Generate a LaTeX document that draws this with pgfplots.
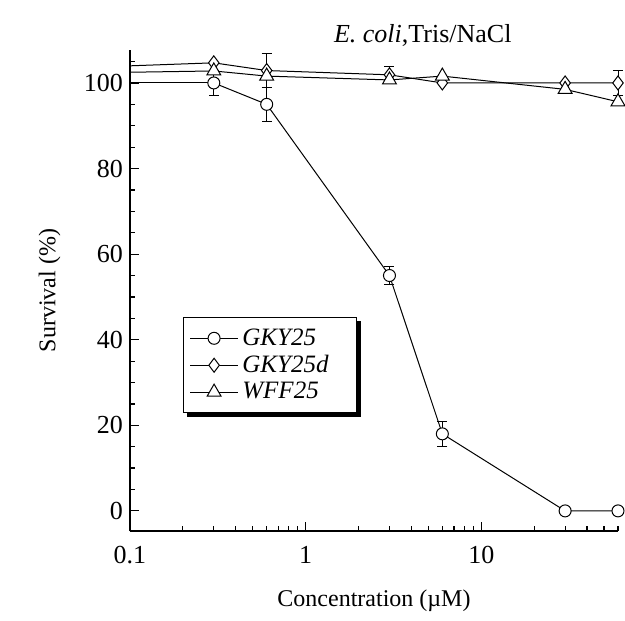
\documentclass[border=0pt]{standalone}
\usepackage{fontspec}
\setmainfont{Liberation Serif}
\usepackage{pgfplots}
\pgfplotsset{compat=1.18}
\usetikzlibrary{backgrounds}

% survival data: x, y, error
\pgfplotstableread{
x y e
0.3 100 3
0.6 95 4
3 55 2
6 18 3
30 0 0
60 0 0
}\gky
\pgfplotstableread{
x y e
0.3 104.7 0
0.6 102.9 4
3 101.9 2
6 100 0
30 100 0
60 100 3
}\gkyd
\pgfplotstableread{
x y e
0.3 102.8 0
0.6 101.6 0
3 100.7 0
6 101.6 0
30 98.5 0
60 95.6 0
}\wff

\begin{document}
\begin{tikzpicture}
\begin{axis}[
  scale only axis,
  width=244bp, height=240.5bp,
  xmode=log, log basis x=10,
  xmin=0.1, xmax=60,
  ymin=-4.7, ymax=107.7,
  axis lines=left,
  axis line style={-, line width=0.75bp},
  tick align=inside,
  major tick length=4.5bp, minor tick length=2.5bp,
  every tick/.style={black, line width=0.6bp},
  xtick={0.1,1,10}, xticklabels={0.1,1,10},
  minor xtick={0.2,0.3,0.4,0.5,0.6,0.7,0.8,0.9,2,3,4,5,6,7,8,9,20,30,40,50,60},
  ytick={0,20,40,60,80,100},
  minor ytick={5,10,15,25,30,35,45,50,55,65,70,75,85,90,95,105},
  /pgf/number format/assume math mode=true,
  tick label style={font=\fontsize{13bp}{14bp}\selectfont},
  xticklabel style={yshift=-4bp},
  label style={font=\fontsize{12bp}{14bp}\selectfont},
  xlabel={Concentration (µM)},
  ylabel={Survival (\%)},
  xlabel style={at={(axis description cs:0.5,-0.145)}, anchor=center},
  ylabel style={at={(axis description cs:-0.165,0.5)}, anchor=center},
  clip=false,
  legend cell align=left,
  legend image code/.code={\draw[mark repeat=2,mark phase=2] plot coordinates {(0cm,0cm) (0.42cm,0cm) (0.84cm,0cm)};},
  legend style={name=leg, at={(axis description cs:0.109,0.445)}, anchor=north west,
    draw=black, line width=0.6bp, fill=white,
    font=\fontsize{12.5bp}{13bp}\selectfont\itshape,
    row sep=-0.5bp, inner xsep=3bp, inner ysep=3.5bp},
  error bars/error bar style={line width=0.5bp, black},
  error bars/error mark options={rotate=90, black, line width=0.5bp, mark size=2.5bp},
]
% segments from the axis edge, no markers
\addplot[black, line width=0.5bp, forget plot] coordinates {(0.1,100) (0.3,100)};
\addplot[black, line width=0.5bp, forget plot] coordinates {(0.1,104) (0.3,104.7)};
\addplot[black, line width=0.5bp, forget plot] coordinates {(0.1,102.5) (0.3,102.8)};

\addplot[black, line width=0.5bp, mark=*, mark size=3bp, mark options={fill=white, line width=0.5bp},
  error bars/.cd, y dir=both, y explicit] table[x=x, y=y, y error=e] {\gky};
\addlegendentry{GKY25}
\addplot[black, line width=0.5bp, mark=diamond*, mark size=3.5bp, mark options={fill=white, line width=0.5bp},
  error bars/.cd, y dir=both, y explicit] table[x=x, y=y, y error=e] {\gkyd};
\addlegendentry{GKY25d\kern 9bp\null}
\addplot[black, line width=0.5bp, mark=triangle*, mark size=4bp, mark options={fill=white, line width=0.5bp},
  error bars/.cd, y dir=both, y explicit] table[x=x, y=y, y error=e] {\wff};
\addlegendentry{WFF25}

\node[font=\fontsize{13bp}{15bp}\selectfont] at (axis description cs:0.6,1.031) {\textit{E. coli},Tris/NaCl};
\end{axis}
\begin{pgfonlayer}{background}
\fill[black] ([shift={(1.8bp,-1.8bp)}]leg.south west) rectangle ([shift={(1.8bp,-1.8bp)}]leg.north east);
\end{pgfonlayer}
\pgfresetboundingbox
\useasboundingbox ([xshift=-65bp, yshift=-45bp]current axis.south west) rectangle ([xshift=3.5bp, yshift=25bp]current axis.north east);
\end{tikzpicture}
\end{document}
